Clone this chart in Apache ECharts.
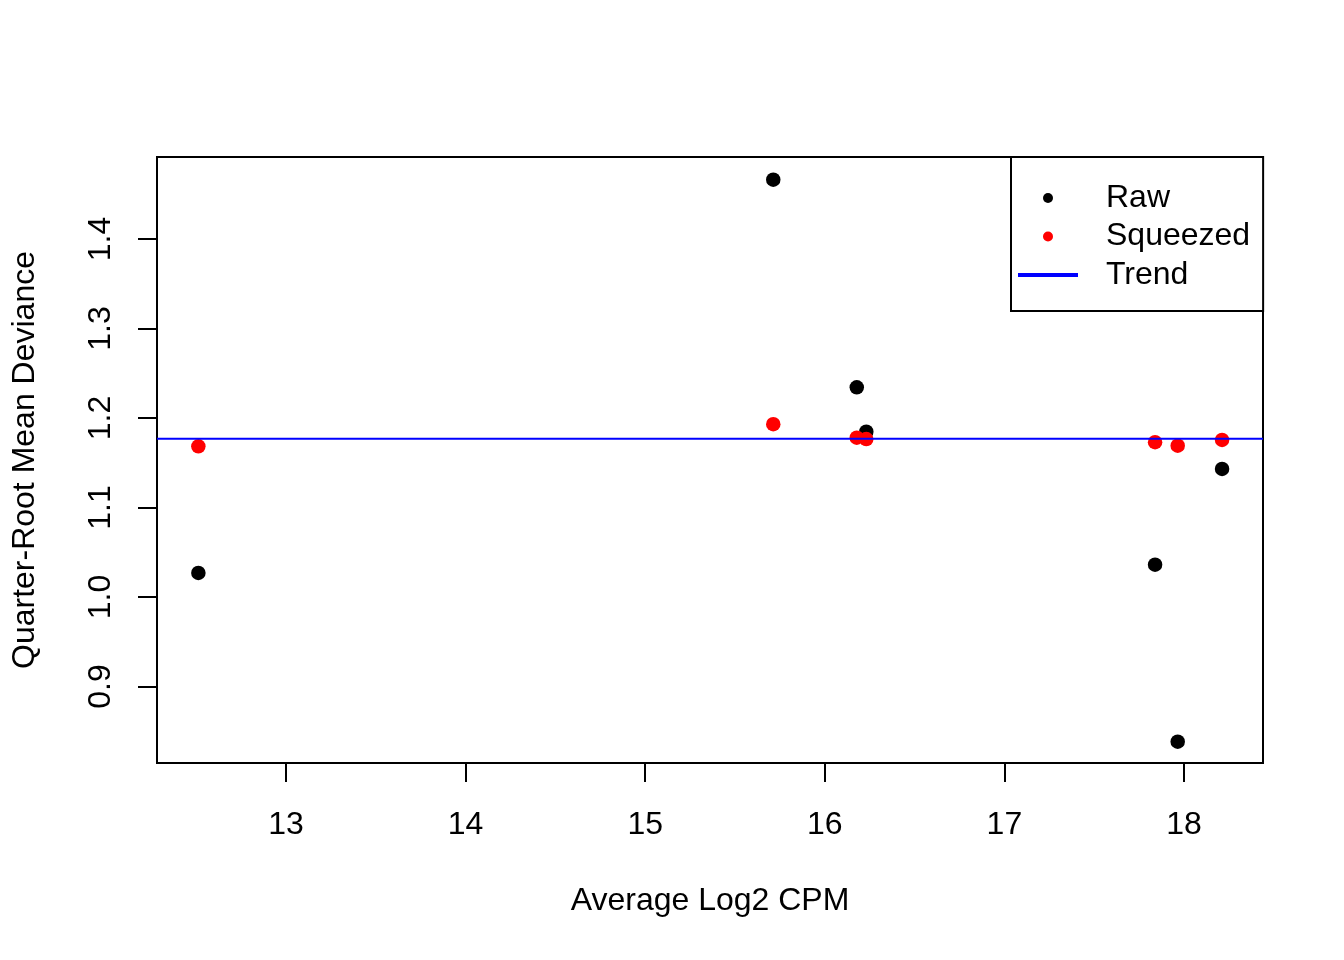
<!DOCTYPE html>
<html>
<head>
<meta charset="utf-8">
<script src="https://cdn.jsdelivr.net/npm/echarts@6/dist/echarts.min.js"></script>
<style>html,body{margin:0;padding:0;background:#fff;}#c{width:1344px;height:960px;}</style>
</head>
<body>
<div id="c"></div>
<script>
const avgLogCPM = [12.512, 15.713, 16.178, 16.231, 17.839, 17.965, 18.212];
const rawDisp = [1.0268, 1.4663, 1.2343, 1.1847, 1.0361, 0.8383, 1.1430];
const squeezedDisp = [1.1684, 1.1930, 1.1780, 1.1765, 1.1729, 1.1691, 1.1754];
const trendValue = 1.1769;
const xTicks = [13, 14, 15, 16, 17, 18];
const yTicks = [0.9, 1.0, 1.1, 1.2, 1.3, 1.4];
const xRange = [12.2817, 18.4399];
const yRange = [0.8145, 1.4916];
const legendNames = ['Raw', 'Squeezed', 'Trend'];

const FONT = 'Liberation Sans, Arial, Helvetica, sans-serif';
const chart = echarts.init(document.getElementById('c'), null, {renderer: 'canvas'});
chart.setOption({
  animation: false,
  backgroundColor: '#ffffff',
  textStyle: {fontFamily: FONT},
  grid: {left: 157, top: 157, width: 1106, height: 606, show: true, borderColor: '#000', borderWidth: 2, backgroundColor: 'transparent'},
  xAxis: {
    type: 'value', min: xRange[0], max: xRange[1],
    name: 'Average Log2 CPM', nameLocation: 'middle', nameGap: 122,
    nameTextStyle: {fontSize: 32, color: '#000', fontFamily: FONT},
    axisLine: {show: false},
    splitLine: {show: false},
    axisTick: {show: true, length: 19, inside: false, customValues: xTicks, lineStyle: {color: '#000', width: 2}},
    axisLabel: {customValues: xTicks, fontSize: 32, color: '#000', margin: 46, fontFamily: FONT, formatter: v => String(v)}
  },
  yAxis: {
    type: 'value', min: yRange[0], max: yRange[1],
    name: 'Quarter-Root Mean Deviance', nameLocation: 'middle', nameGap: 116, nameRotate: 90,
    nameTextStyle: {fontSize: 32, color: '#000', fontFamily: FONT},
    axisLine: {show: false},
    splitLine: {show: false},
    axisTick: {show: true, length: 19, inside: false, customValues: yTicks, lineStyle: {color: '#000', width: 2}},
    axisLabel: {customValues: yTicks, rotate: 90, fontSize: 32, color: '#000', margin: 40, fontFamily: FONT, formatter: v => Number(v).toFixed(1)}
  },
  legend: {
    orient: 'vertical', left: 1011, top: 157,
    padding: [22, 13, 17, 7],
    borderColor: '#000', borderWidth: 2, backgroundColor: '#fff',
    itemWidth: 60, itemHeight: 10, itemGap: 0.5,
    textStyle: {fontSize: 32, color: '#000', lineHeight: 38, padding: [0, 0, 0, 23], fontFamily: FONT},
    selectedMode: false,
    data: [
      {name: legendNames[0], icon: 'circle', itemStyle: {color: '#000000', opacity: 1}},
      {name: legendNames[1], icon: 'circle', itemStyle: {color: '#ff0000', opacity: 1}},
      {name: legendNames[2], icon: 'path://M0,0 L60,0 L60,4 L0,4 Z', itemStyle: {color: '#0000ff'}}
    ]
  },
  series: [
    {name: legendNames[0], type: 'scatter', symbol: 'circle', symbolSize: 14.5,
     itemStyle: {color: '#000000', opacity: 1}, data: avgLogCPM.map((x, i) => [x, rawDisp[i]])},
    {name: legendNames[1], type: 'scatter', symbol: 'circle', symbolSize: 14.5,
     itemStyle: {color: '#ff0000', opacity: 1}, data: avgLogCPM.map((x, i) => [x, squeezedDisp[i]])},
    {name: legendNames[2], type: 'line', symbol: 'none', showSymbol: false,
     lineStyle: {color: '#0000ff', width: 2}, itemStyle: {color: '#0000ff'},
     data: [[xRange[0], trendValue], [xRange[1], trendValue]]}
  ]
});
</script>
</body>
</html>
